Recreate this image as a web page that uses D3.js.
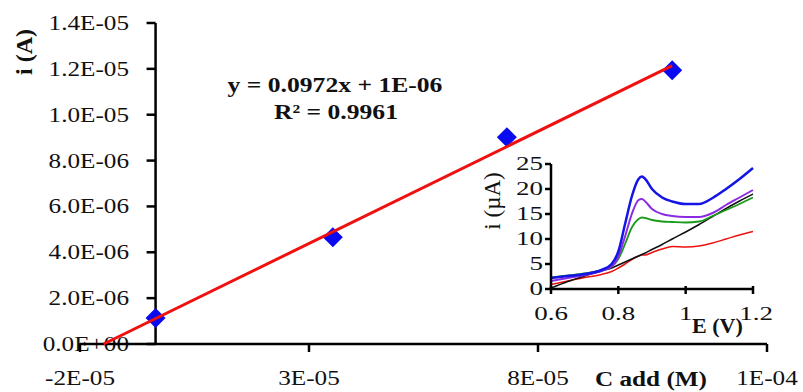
<!DOCTYPE html>
<html>
<head>
<meta charset="utf-8">
<script src="https://cdn.jsdelivr.net/npm/d3@7"></script>
<style>
  body { margin: 0; background: #fff; }
  text { font-family: "Liberation Serif", "Times New Roman", serif; fill: #111; }
</style>
</head>
<body>
<div id="canvas"></div>
<script>
"use strict";

/* Data: standard addition points */
let concAdded = [0, 3.87e-5, 7.67e-5, 1.128e-4];           // M
let currentA = [1.13e-6, 4.66e-6, 9.02e-6, 1.194e-5];       // A

let xTickValues = [-1.65e-5, 3.35e-5, 8.35e-5, 1.335e-4];
let xTickLabels = ["-2E-05", "3E-05", "8E-05", "1E-04"];
let yTickValues = [0, 2e-6, 4e-6, 6e-6, 8e-6, 1e-5, 1.2e-5, 1.4e-5];
let yTickLabels = ["0.0E+00", "2.0E-06", "4.0E-06", "6.0E-06", "8.0E-06", "1.0E-05", "1.2E-05", "1.4E-05"];

/* Data: inset voltammograms */
let potential = [0.60, 0.65, 0.70, 0.75, 0.78, 0.80, 0.82, 0.84, 0.86, 0.87, 0.88, 0.90, 0.93, 0.96, 1.00, 1.04, 1.08, 1.12, 1.16, 1.20];
let curBlue   = [2.2, 2.6, 3.0, 3.8, 5.0, 7.5, 13.0, 18.5, 22.0, 22.5, 22.0, 20.0, 18.3, 17.5, 17.0, 17.0, 18.2, 20.0, 22.0, 24.2];
let curPurple = [1.6, 2.2, 2.8, 3.6, 4.5, 6.5, 10.5, 15.0, 17.8, 18.0, 17.5, 16.0, 15.0, 14.6, 14.4, 14.4, 15.2, 16.8, 18.3, 19.8];
let curGreen  = [2.3, 2.7, 3.1, 3.8, 4.5, 6.0, 9.0, 12.3, 14.0, 14.3, 14.2, 13.8, 13.5, 13.4, 13.3, 13.5, 14.6, 15.8, 17.0, 18.3];
let curBlack  = [0.2, 1.5, 2.6, 3.6, 4.2, 4.8, 5.4, 6.0, 6.6, 6.9, 7.2, 7.9, 8.9, 10.0, 11.4, 12.9, 14.5, 16.1, 17.6, 19.0];
let curRed    = [0.9, 1.6, 2.3, 2.9, 3.5, 4.2, 5.0, 5.9, 6.6, 6.8, 6.8, 7.3, 8.0, 8.5, 8.4, 8.6, 9.2, 10.0, 10.8, 11.5];
let insetXTicks = [0.6, 0.8, 1.0, 1.2];
let insetXLabels = ["0.6", "0.8", "1", "1.2"];
let insetYTicks = [0, 5, 10, 15, 20, 25];

/* Drawing configuration */
let svgWidth = 803;
let svgHeight = 392;
let stretch = 1.2;

let svg = d3.select("#canvas")
  .append("svg")
  .attr("width", svgWidth)
  .attr("height", svgHeight);

/* Stretched text helper (the source image is wider than normal) */
function label(x, y, str, anchor, size, weight, sx) {
  return svg.append("text")
    .attr("transform", "translate(" + x + "," + y + ") scale(" + (sx || stretch) + ",1)")
    .attr("text-anchor", anchor)
    .attr("font-size", size + "px")
    .attr("font-weight", weight || "normal")
    .text(str);
}

/* Main scales */
let xScale = d3.scaleLinear()
  .domain([-1.65e-5, 1.335e-4])
  .range([80, 767]);

let yScale = d3.scaleLinear()
  .domain([0, 1.4e-5])
  .range([344, 23]);

let x0 = xScale(0);

/* Tick labels (drawn first so axis line overlaps, like the original) */
yTickValues.forEach((v, i) => {
  label(129, yScale(v) + 7, yTickLabels[i], "end", 21);
});
xTickValues.forEach((v, i) => {
  label(xScale(v), 385, xTickLabels[i], "middle", 21);
});

/* Axes lines and ticks */
svg.append("line")
  .attr("x1", xScale(xTickValues[0])).attr("x2", xScale(xTickValues[3]))
  .attr("y1", yScale(0)).attr("y2", yScale(0))
  .attr("stroke", "black").attr("stroke-width", 2.5);

svg.append("line")
  .attr("x1", x0).attr("x2", x0)
  .attr("y1", yScale(1.4e-5)).attr("y2", yScale(0))
  .attr("stroke", "black").attr("stroke-width", 2.5);

yTickValues.forEach(v => {
  svg.append("line")
    .attr("x1", x0 - 9).attr("x2", x0)
    .attr("y1", yScale(v)).attr("y2", yScale(v))
    .attr("stroke", "black").attr("stroke-width", 2.5);
});
xTickValues.forEach(v => {
  svg.append("line")
    .attr("x1", xScale(v)).attr("x2", xScale(v))
    .attr("y1", yScale(0)).attr("y2", yScale(0) + 8)
    .attr("stroke", "black").attr("stroke-width", 2.5);
});

/* Points */
svg.selectAll("path.pt")
  .data(concAdded)
  .enter()
  .append("path")
  .attr("class", "pt")
  .attr("d", d3.symbol(d3.symbolSquare, 200))
  .attr("transform", (d, i) => "translate(" + xScale(d) + "," + yScale(currentA[i]) + ") rotate(45)")
  .attr("fill", "#0a0af0");

/* Linear trendline, extended back to zero current */
let mx = d3.mean(concAdded);
let my = d3.mean(currentA);
let sxy = d3.sum(concAdded, (d, i) => (d - mx) * (currentA[i] - my));
let sxx = d3.sum(concAdded, d => (d - mx) * (d - mx));
let slope = sxy / sxx;
let intercept = my - slope * mx;
let xStart = -intercept / slope;
let xEnd = d3.max(concAdded);

svg.append("line")
  .attr("x1", xScale(xStart)).attr("y1", yScale(0))
  .attr("x2", xScale(xEnd)).attr("y2", yScale(slope * xEnd + intercept))
  .attr("stroke", "#f01010")
  .attr("stroke-width", 3);

/* Equation */
label(335, 92, "y = 0.0972x + 1E-06", "middle", 21, "bold", 1.22);
label(336, 119, "R\u00b2 = 0.9961", "middle", 21, "bold", 1.22);

/* Axis titles */
svg.append("text")
  .attr("transform", "translate(32,52) rotate(-90)")
  .attr("text-anchor", "middle")
  .attr("font-size", "24px")
  .attr("font-weight", "bold")
  .text("i (A)");

label(595, 386, "C add (M)", "start", 21, "bold");

/* Inset */
let ix = d3.scaleLinear().domain([0.6, 1.2]).range([551, 753]);
let iy = d3.scaleLinear().domain([0, 25]).range([289, 164]);

let series = [
  { vals: curRed, color: "#ee1111", w: 1.5 },
  { vals: curBlack, color: "#111111", w: 1.5 },
  { vals: curGreen, color: "#1a9a1a", w: 1.8 },
  { vals: curPurple, color: "#8a2be2", w: 2 },
  { vals: curBlue, color: "#1414e6", w: 2.5 }
];

let lineGen = d3.line()
  .x((d, i) => ix(potential[i]))
  .y(d => iy(d))
  .curve(d3.curveMonotoneX);

series.forEach(s => {
  svg.append("path")
    .attr("d", lineGen(s.vals))
    .attr("fill", "none")
    .attr("stroke", s.color)
    .attr("stroke-width", s.w);
});

svg.append("line")
  .attr("x1", ix(0.6)).attr("x2", ix(1.2))
  .attr("y1", iy(0)).attr("y2", iy(0))
  .attr("stroke", "black").attr("stroke-width", 2.5);
svg.append("line")
  .attr("x1", ix(0.6)).attr("x2", ix(0.6))
  .attr("y1", iy(25)).attr("y2", iy(0))
  .attr("stroke", "black").attr("stroke-width", 2.5);

insetYTicks.forEach(v => {
  svg.append("line")
    .attr("x1", ix(0.6) - 6).attr("x2", ix(0.6))
    .attr("y1", iy(v)).attr("y2", iy(v))
    .attr("stroke", "black").attr("stroke-width", 2.5);
  label(543, iy(v) + 6, String(v), "end", 18, "normal", 1.5);
});
insetXTicks.forEach((v, i) => {
  svg.append("line")
    .attr("x1", ix(v)).attr("x2", ix(v))
    .attr("y1", iy(0) - 3).attr("y2", iy(0) + 5)
    .attr("stroke", "black").attr("stroke-width", 2.5);
  label(ix(v) + (i === 3 ? 3 : 0), 320, insetXLabels[i], "middle", 18, "normal", 1.5);
});

svg.append("text")
  .attr("transform", "translate(500,201) rotate(-90)")
  .attr("text-anchor", "middle")
  .attr("font-size", "23px")
  .text("i (\u00b5A)");

label(692, 333, "E (V)", "start", 21, "bold", 1.05);
</script>
</body>
</html>
